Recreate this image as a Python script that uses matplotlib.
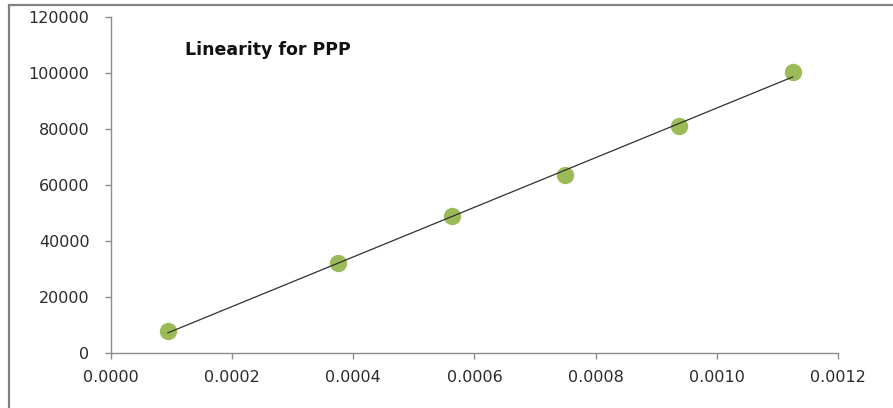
import numpy as np
import matplotlib
matplotlib.use("Agg")
import matplotlib.pyplot as plt
from matplotlib.patches import Rectangle

plt.rcParams['font.family'] = ['DejaVu Sans']

# Calibration data: concentration vs. peak area
concentration = [0.0000938, 0.000375, 0.000563, 0.00075, 0.000938, 0.001125]
peak_area = [7800, 32200, 49000, 63600, 81100, 100300]
x_ticks = [0.0000, 0.0002, 0.0004, 0.0006, 0.0008, 0.0010, 0.0012]
y_ticks = [0, 20000, 40000, 60000, 80000, 100000, 120000]
title = "Linearity for PPP"

fig = plt.figure(figsize=(8.93, 4.08), dpi=100)
ax = fig.add_axes([0.1243, 0.1348, 0.8141, 0.8235])

# Linear trendline through the calibration points
slope, intercept = np.polyfit(concentration, peak_area, 1)
xs = np.array([min(concentration), max(concentration)])
ax.plot(xs, slope * xs + intercept, color='#303030', lw=0.9, zorder=3)

ax.plot(concentration, peak_area, 'o', color='#9BBB59', markersize=12.5,
        markeredgewidth=0, zorder=2)

ax.set_xlim(0, 0.0012)
ax.set_ylim(0, 120000)
ax.set_xticks(x_ticks)
ax.set_xticklabels([f"{v:.4f}" for v in x_ticks])
ax.set_yticks(y_ticks)
ax.set_yticklabels([str(v) for v in y_ticks])

for side in ('top', 'right'):
    ax.spines[side].set_visible(False)
for side in ('left', 'bottom'):
    ax.spines[side].set_color('#8c8c8c')
    ax.spines[side].set_linewidth(1.0)
ax.tick_params(axis='both', direction='out', length=4.5, width=1.0,
               color='#8c8c8c', labelsize=11.5, labelcolor='#2b2b2b')
ax.tick_params(axis='y', pad=11)
ax.tick_params(axis='x', pad=8)

fig.text(0.207, 0.877, title, fontsize=12.5, fontweight='bold',
         color='#111111', va='center', ha='left')

# Chart-area border (left and top edges visible)
fig.patches.append(Rectangle((0.0101, -0.5), 1.5, 0.5 + 0.9877,
                             transform=fig.transFigure, fill=False,
                             edgecolor='#808080', lw=1.6))

fig.savefig("out.png", dpi=100)
